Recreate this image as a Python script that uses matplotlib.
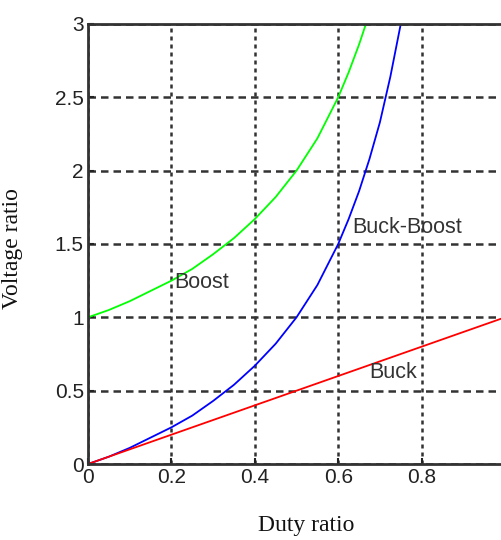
import matplotlib
matplotlib.use('Agg')
import matplotlib.pyplot as plt

# ---- data ----
boost_d = [0, 0.05, 0.1, 0.15, 0.2, 0.25, 0.3, 0.35, 0.4, 0.45, 0.5, 0.55,
           0.6, 0.625, 0.65, 0.67]
boost_v = [1.0, 1.05, 1.11, 1.18, 1.25, 1.33, 1.43, 1.54, 1.67, 1.82, 2.0,
           2.22, 2.5, 2.67, 2.86, 3.03]

bb_d = [0, 0.05, 0.1, 0.15, 0.2, 0.25, 0.3, 0.35, 0.4, 0.45, 0.5, 0.55,
        0.6, 0.625, 0.65, 0.675, 0.7, 0.725, 0.75, 0.76]
bb_v = [0, 0.05, 0.11, 0.18, 0.25, 0.33, 0.43, 0.54, 0.67, 0.82, 1.0, 1.22,
        1.5, 1.67, 1.86, 2.08, 2.33, 2.64, 3.0, 3.17]

buck_d = [0, 0.2, 0.4, 0.6, 0.8, 1.0]
buck_v = [0, 0.2, 0.4, 0.6, 0.8, 1.0]

xticks = [0, 0.2, 0.4, 0.6, 0.8, 1]
xtick_labels = ['0', '0.2', '0.4', '0.6', '0.8', '1']
yticks = [0, 0.5, 1, 1.5, 2, 2.5, 3]
ytick_labels = ['0', '0.5', '1', '1.5', '2', '2.5', '3']

# ---- figure ----
fig = plt.figure(figsize=(5.02, 5.40), dpi=100)
ax = fig.add_axes([0.1753, 0.1407, 0.8307, 0.8149])

ax.plot(boost_d, boost_v, color='#00ff00', lw=1.3)
ax.plot(bb_d, bb_v, color='#0000ff', lw=1.3)
ax.plot(buck_d, buck_v, color='#ff0000', lw=1.3)

ax.set_xlim(0, 1)
ax.set_ylim(0, 3)
ax.set_xticks(xticks)
ax.set_xticklabels(xtick_labels)
ax.set_yticks(yticks)
ax.set_yticklabels(ytick_labels)

# vertical grid looks dotted, horizontal one dashed
ax.xaxis.grid(True, color='#333333', linestyle=(0, (1.6, 1.6)), linewidth=1.8)
ax.yaxis.grid(True, color='#333333', linestyle=(0, (3, 2)), linewidth=1.8)
ax.tick_params(direction='in', length=4, width=1.5, colors='#222222',
               labelsize=15, pad=3, labelfontfamily='Liberation Sans')
for s in ax.spines.values():
    s.set_linewidth(2)
    s.set_color('#333333')

txt = dict(fontsize=15.5, family='Liberation Sans', color='#333333',
           va='center', ha='left')
ax.text(0.206, 1.24, 'Boost', **txt)
ax.text(0.633, 1.615, 'Buck-Boost', **txt)
ax.text(0.674, 0.627, 'Buck', **txt)

ax.set_xlabel('Duty ratio', fontsize=17, family='Liberation Serif',
              color='#111111')
ax.set_ylabel('Voltage ratio', fontsize=17, family='Liberation Serif',
              color='#111111')
ax.xaxis.set_label_coords(0.523, -0.115)
ax.yaxis.set_label_coords(-0.155, 0.49)

fig.savefig('out.png', dpi=100)
